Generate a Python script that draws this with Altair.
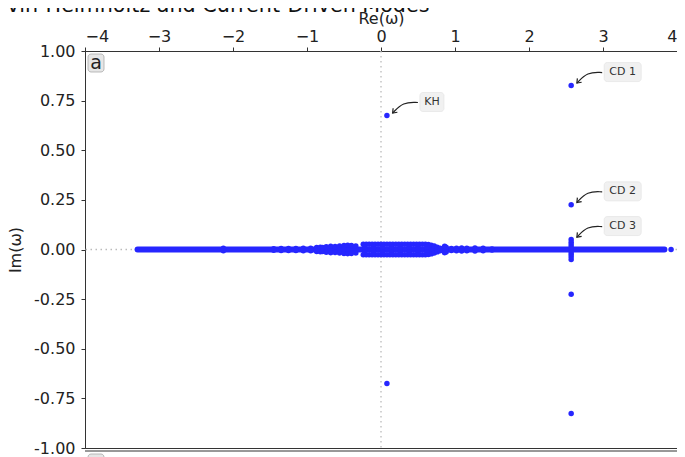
import math
import altair as alt
import pandas as pd

# ---------------- data ----------------
# isolated unstable / damped modes (Re, Im)
mode_re = [0.08, 0.08, 2.57, 2.57, 2.57, 2.57, 3.92]
mode_im = [0.675, -0.675, 0.826, -0.826, 0.225, -0.225, 0.0]

# continuum of (nearly) real eigenvalues along the real axis
band_re_start = [-3.29]
band_re_end = [3.83]

# near-axis eigenvalues (Re, |Im|), appear as conjugate pairs
near_re = [-2.13,
           -1.45, -1.35, -1.25, -1.15, -1.05, -0.95,
           -0.87, -0.82, -0.79,
           -0.74, -0.68, -0.62,
           -0.56, -0.50, -0.45, -0.40, -0.34,
           -0.24, -0.20, -0.16, -0.12, -0.08, -0.04, 0.00, 0.04, 0.08, 0.12,
           0.16, 0.20, 0.24, 0.28, 0.32, 0.36, 0.40, 0.44, 0.48, 0.52, 0.56,
           0.60, 0.64, 0.68,
           -0.22, -0.10, 0.02, 0.14, 0.26, 0.38, 0.50, 0.62,
           0.72, 0.76, 0.80,
           0.86, 0.88,
           0.95, 1.02, 1.09, 1.16, 1.27, 1.38, 1.50,
           2.57, 2.57, 2.57, 2.57]
near_im = [0.006,
           0.004, 0.005, 0.005, 0.005, 0.006, 0.006,
           0.010, 0.011, 0.010,
           0.014, 0.016, 0.015,
           0.018, 0.020, 0.021, 0.020, 0.018,
           0.026, 0.026, 0.026, 0.026, 0.026, 0.026, 0.026, 0.026, 0.026, 0.026,
           0.026, 0.026, 0.026, 0.026, 0.026, 0.026, 0.026, 0.026, 0.026, 0.026, 0.026,
           0.026, 0.025, 0.022,
           0.013, 0.013, 0.013, 0.013, 0.013, 0.013, 0.013, 0.013,
           0.018, 0.012, 0.006,
           0.016, 0.012,
           0.005, 0.006, 0.008, 0.006, 0.007, 0.006, 0.003,
           0.050, 0.037, 0.024, 0.012]

ann_label = ["KH", "CD 1", "CD 2", "CD 3"]
ann_re = [0.08, 2.57, 2.57, 2.57]
ann_im = [0.675, 0.826, 0.225, 0.050]

x_ticks = [-4, -3, -2, -1, 0, 1, 2, 3, 4]
y_ticks = [-1.0, -0.75, -0.5, -0.25, 0.0, 0.25, 0.5, 0.75, 1.0]

title_text = "Kelvin-Helmholtz and Current-Driven Modes"
panel_text = "a"

# ---------------- style ----------------
W, H = 592, 397
XD, YD = [-4, 4], [-1, 1]
PX = W / (XD[1] - XD[0])   # px per unit of Re
PY = H / (YD[1] - YD[0])   # px per unit of Im
BLUE = "#2626ff"
FONT = "DejaVu Sans"
box_w = {"KH": 24, "CD 1": 37, "CD 2": 37, "CD 3": 37}

# ---------------- tables ----------------
modes = pd.DataFrame({"re": mode_re, "im": mode_im})
near = pd.DataFrame({"re": near_re + near_re,
                     "im": near_im + [-v for v in near_im]})
band = pd.DataFrame({"x1": band_re_start, "x2": band_re_end, "y": [0.0]})
zero = pd.DataFrame({"v": [0.0]})

arrow_rows, head_rows, box_rows, text_rows = [], [], [], []
for lab, r, i in zip(ann_label, ann_re, ann_im):
    def d(dx, dy):
        return r + dx / PX, i - dy / PY
    tail, ctrl, tip = d(31, -13), d(16, -13.5), d(5.7, -2.4)
    for k, p in enumerate([tail, ctrl, tip]):
        arrow_rows.append({"lab": lab, "k": k, "re": p[0], "im": p[1]})
    ang = math.degrees(math.atan2(-2.4 + 13.5, 5.7 - 16))
    head_rows.append({"lab": lab, "re": tip[0], "im": tip[1], "ang": ang})
    bw = box_w[lab]
    x1, y1 = d(33, -23)
    x2, y2 = d(33 + bw, -4)
    box_rows.append({"lab": lab, "x1": x1, "x2": x2, "y1": y1, "y2": y2})
    tx, ty = d(33 + bw / 2, -13.5)
    text_rows.append({"lab": lab, "re": tx, "im": ty})

arrows = pd.DataFrame(arrow_rows)
heads = pd.DataFrame(head_rows)
boxes = pd.DataFrame(box_rows)
texts = pd.DataFrame(text_rows)

xs = alt.Scale(domain=XD, nice=False, zero=False)
ys = alt.Scale(domain=YD, nice=False, zero=False)

x_axis = alt.Axis(orient="top", values=x_ticks, title="Re(ω)", grid=False,
                  labelFontSize=16, titleFontSize=16, titlePadding=2,
                  labelPadding=3, tickSize=4)
y_axis = alt.Axis(values=y_ticks, title="Im(ω)", grid=False,
                  labelFontSize=16, titleFontSize=16, titlePadding=10,
                  labelPadding=6, tickSize=4,
                  labelExpr="replace(format(datum.value, '.2f'), '\u2212', '-')")

base_x = alt.X("re:Q", scale=xs, axis=x_axis)
base_y = alt.Y("im:Q", scale=ys, axis=y_axis)

zero_v = alt.Chart(zero).mark_rule(color="#bbbbbb", strokeDash=[1.5, 3.5],
                                   strokeWidth=1.3).encode(
    x=alt.X("v:Q", scale=xs, axis=x_axis))
zero_h = alt.Chart(zero).mark_rule(color="#bbbbbb", strokeDash=[1.5, 3.5],
                                   strokeWidth=1.3).encode(
    y=alt.Y("v:Q", scale=ys, axis=y_axis))

band_rule = alt.Chart(band).mark_rule(color=BLUE, strokeWidth=6,
                                      strokeCap="round").encode(
    x=alt.X("x1:Q", scale=xs, axis=x_axis), x2="x2:Q",
    y=alt.Y("y:Q", scale=ys, axis=y_axis))

near_pts = alt.Chart(near).mark_circle(size=30, color=BLUE, opacity=1).encode(
    x=base_x, y=base_y)
mode_pts = alt.Chart(modes).mark_circle(size=30, color=BLUE, opacity=1).encode(
    x=base_x, y=base_y)

arrow_lines = alt.Chart(arrows).mark_line(color="#222222", strokeWidth=1.2,
                                          interpolate="basis").encode(
    x=base_x, y=base_y, detail="lab:N", order="k:Q")
arrow_heads = alt.Chart(heads).mark_point(
    shape="M -1 -0.75 L 0 0 L -1 0.75", filled=False, stroke="#222222",
    strokeWidth=1.2, size=60, opacity=1).encode(
    x=base_x, y=base_y, angle=alt.Angle("ang:Q", scale=None))

box_rects = alt.Chart(boxes).mark_rect(fill="#f1f1f1", stroke="#e6e6e6",
                                       strokeWidth=0.8, cornerRadius=3).encode(
    x=alt.X("x1:Q", scale=xs, axis=x_axis), x2="x2:Q",
    y=alt.Y("y1:Q", scale=ys, axis=y_axis), y2="y2:Q")
box_texts = alt.Chart(texts).mark_text(font=FONT, fontSize=11, color="#333333",
                                       baseline="middle", align="center").encode(
    x=base_x, y=base_y, text="lab:N")

panel_box = alt.Chart(zero).mark_rect(fill="#e6e6e6", stroke="#aaaaaa",
                                      strokeWidth=0.8, cornerRadius=3).encode(
    x=alt.value(3), x2=alt.value(19), y=alt.value(3), y2=alt.value(21))
panel_lab = alt.Chart(zero).mark_text(font=FONT, fontSize=19, color="#222222",
                                      baseline="middle", align="center").encode(
    x=alt.value(11), y=alt.value(12), text=alt.value(panel_text))

# top edge of the next (cropped) panel below
next_edge = alt.Chart(zero).mark_rule(color="#333333", strokeWidth=1).encode(
    x=alt.value(0), x2=alt.value(W), y=alt.value(H + 3))
next_box = alt.Chart(zero).mark_rect(fill="#e6e6e6", stroke="#aaaaaa",
                                     strokeWidth=0.8, cornerRadius=3).encode(
    x=alt.value(3), x2=alt.value(19), y=alt.value(H + 6), y2=alt.value(H + 24))

title_mark = alt.Chart(zero).mark_text(font=FONT, fontSize=20.7, color="#111111",
                                       baseline="alphabetic", align="left").encode(
    x=alt.value(-109), y=alt.value(-39), text=alt.value(title_text))

chart = alt.layer(
    zero_v, zero_h, band_rule, near_pts, mode_pts, arrow_lines, arrow_heads,
    box_rects, box_texts, panel_box, panel_lab, next_edge, next_box, title_mark
).properties(
    width=W, height=H,
    autosize=alt.AutoSizeParams(type="none"),
    padding={"left": 77, "top": 43, "right": 0, "bottom": 9},
).configure_axis(
    labelFont=FONT, titleFont=FONT, labelColor="#222222", titleColor="#222222",
    domainColor="#333333", tickColor="#333333", titleFontWeight="normal",
).configure_view(stroke="#333333", strokeWidth=1)

chart.save("out.html", embed_options={"renderer": "svg", "actions": False})
